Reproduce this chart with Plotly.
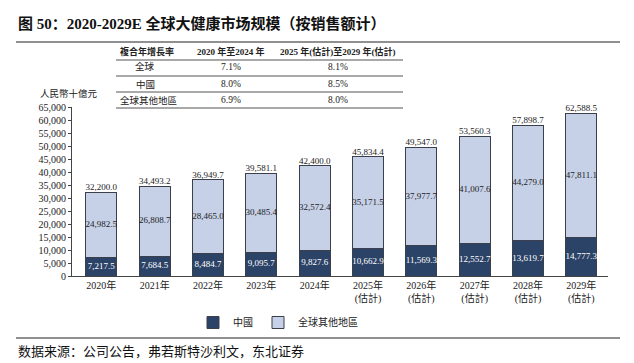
import plotly.graph_objects as go

years = ["2020年", "2021年", "2022年", "2023年", "2024年",
         "2025年<br>(估計)", "2026年<br>(估計)", "2027年<br>(估計)", "2028年<br>(估計)", "2029年<br>(估計)"]
china = [7217.5, 7684.5, 8484.7, 9095.7, 9827.6, 10662.9, 11569.3, 12552.7, 13619.7, 14777.3]
rest = [24982.5, 26808.7, 28465.0, 30485.4, 32572.4, 35171.5, 37977.7, 41007.6, 44279.0, 47811.1]
totals = [32200.0, 34493.2, 36949.7, 39581.1, 42400.0, 45834.4, 49547.0, 53560.3, 57898.7, 62588.5]

table_header = ["複合年增長率", "2020 年至2024 年", "2025 年(估計)至2029 年(估計)"]
table_rows = [["全球", "7.1%", "8.1%"], ["中國", "8.0%", "8.5%"], ["全球其他地區", "6.9%", "8.0%"]]

W, H = 634, 363
L, R, T, B = 64, 34, 99, 95
PH = H - T - B
PW = W - L - R

def py(p):  # pixel y -> paper y
    return (H - B - p) / PH

def px(p):  # pixel x -> paper x
    return (p - L) / PW

SERIF = "Liberation Serif, Noto Sans CJK SC"
DARK = "#2C4368"
LIGHT = "#C6D1E8"
EDGE = "#3A3F4A"

x = list(range(len(years)))
fig = go.Figure()
fig.add_trace(go.Bar(x=x, y=china, name="中國", marker=dict(color=DARK, line=dict(color=EDGE, width=1)), width=0.58))
fig.add_trace(go.Bar(x=x, y=rest, name="全球其他地區", marker=dict(color=LIGHT, line=dict(color=EDGE, width=1)), width=0.58))

fmt = lambda v: f"{v:,.1f}"
fig.add_trace(go.Scatter(x=x, y=[c / 2 for c in china], mode="text", text=[fmt(v) for v in china], cliponaxis=False,
                         textfont=dict(family=SERIF, size=9, color="white"), showlegend=False, hoverinfo="skip"))
fig.add_trace(go.Scatter(x=x, y=[c + r / 2 for c, r in zip(china, rest)], mode="text", text=[fmt(v) for v in rest],
                         cliponaxis=False,
                         textfont=dict(family=SERIF, size=9, color="#222"), showlegend=False, hoverinfo="skip"))
fig.add_trace(go.Scatter(x=x, y=totals, mode="text", text=[fmt(v) for v in totals], textposition="top center",
                         cliponaxis=False,
                         textfont=dict(family=SERIF, size=9, color="#222"), showlegend=False, hoverinfo="skip"))

ann = []
shapes = []
# title
ann.append(dict(x=px(8), y=py(16), xref="paper", yref="paper", xanchor="left", yanchor="middle", showarrow=False,
                text="<b>图 50：2020-2029E 全球大健康市场规模（按销售额计）</b>",
                font=dict(family=SERIF, size=15, color="#111")))
shapes.append(dict(type="line", xref="paper", yref="paper", x0=px(8), x1=px(612), y0=py(34), y1=py(34),
                   line=dict(color="#222", width=1.2)))
# source
shapes.append(dict(type="line", xref="paper", yref="paper", x0=px(8), x1=px(612), y0=py(330), y1=py(330),
                   line=dict(color="#222", width=1.2)))
ann.append(dict(x=px(8), y=py(343), xref="paper", yref="paper", xanchor="left", yanchor="middle", showarrow=False,
                text="数据来源：公司公告，弗若斯特沙利文，东北证券",
                font=dict(family=SERIF, size=13, color="#111")))
# unit
ann.append(dict(x=px(30), y=py(85), xref="paper", yref="paper", xanchor="left", yanchor="middle", showarrow=False,
                text="人民幣十億元", font=dict(family=SERIF, size=9.5, color="#222")))
# table
col_x = [(110, "left"), (223, "center"), (330, "center")]
row_y = [43, 59, 76, 92]
for j, h in enumerate(table_header):
    ann.append(dict(x=px(col_x[j][0]), y=py(row_y[0]), xref="paper", yref="paper", xanchor=col_x[j][1],
                    yanchor="middle", showarrow=False, text=f"<b>{h}</b>",
                    font=dict(family=SERIF, size=9, color="#222")))
for i, row in enumerate(table_rows):
    for j, cell in enumerate(row):
        xx, anc = col_x[j]
        if j == 0 and i < 2:
            xx, anc = 137, "center"
        ann.append(dict(x=px(xx), y=py(row_y[i + 1]), xref="paper", yref="paper", xanchor=anc,
                        yanchor="middle", showarrow=False, text=cell,
                        font=dict(family=SERIF, size=9.5, color="#222")))
for ly, lw in [(52, 1.2), (68, 1), (84, 1), (100, 1.2)]:
    shapes.append(dict(type="line", xref="paper", yref="paper", x0=px(108), x1=px(395), y0=py(ly), y1=py(ly),
                       line=dict(color="#555", width=lw)))

fig.update_layout(
    width=W, height=H, margin=dict(l=L, r=R, t=T, b=B),
    paper_bgcolor="white", plot_bgcolor="white", barmode="stack", bargap=0.42,
    annotations=ann, shapes=shapes,
    font=dict(family=SERIF, size=10, color="#222"),
    legend=dict(orientation="h", x=px(185), y=py(300), xanchor="left", yanchor="top",
                font=dict(family=SERIF, size=10, color="#222"), itemwidth=30, traceorder="normal"),
    xaxis=dict(tickmode="array", tickvals=x, ticktext=years, range=[-0.55, 9.5], showline=True,
               linecolor="#444", linewidth=1, ticks="", tickfont=dict(family=SERIF, size=10, color="#222"),
               showgrid=False, zeroline=False),
    yaxis=dict(range=[0, 65000], tickvals=list(range(0, 65001, 5000)), tickformat=",d", showline=True,
               linecolor="#444", linewidth=1, ticks="outside", ticklen=3, tickcolor="#444",
               tickfont=dict(family=SERIF, size=10, color="#222"), showgrid=False, zeroline=False),
)
fig.write_html("out.html")
